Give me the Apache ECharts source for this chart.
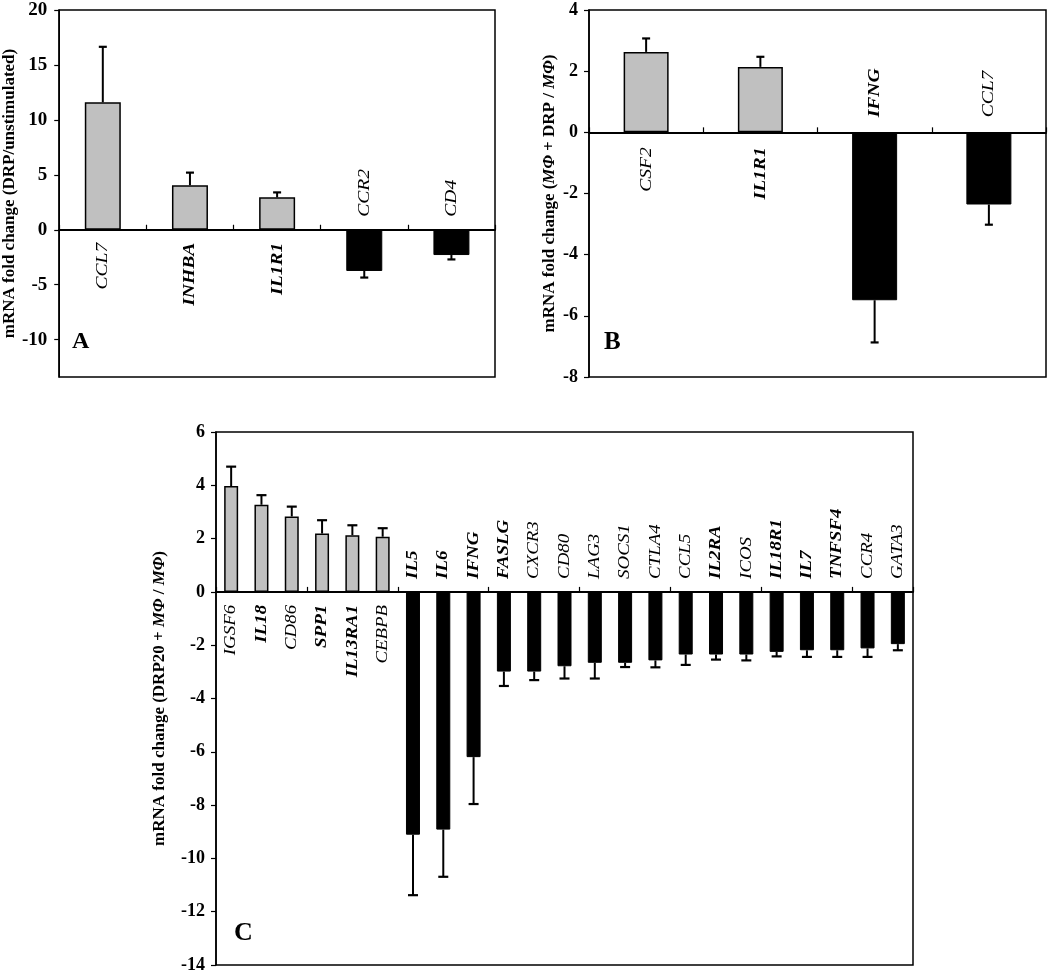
<!DOCTYPE html>
<html><head><meta charset="utf-8">
<script src="https://cdn.jsdelivr.net/npm/echarts@6/dist/echarts.min.js"></script>
<style>html,body{margin:0;padding:0;background:#fff}#c{width:1050px;height:974px}</style>
</head><body><div id="c"></div>
<script>
// ---- Data ----
const genesA = ['CCL7', 'INHBA', 'IL1R1', 'CCR2', 'CD4'];
const valuesA = [11.6, 4.05, 2.95, -3.75, -2.3];
const errorsA = [5.05, 1.15, 0.45, 0.6, 0.4];
const ticksA = [-10, -5, 0, 5, 10, 15, 20];

const genesB = ['CSF2', 'IL1R1', 'IFNG', 'CCL7'];
const valuesB = [2.63, 2.14, -5.49, -2.36];
const errorsB = [0.44, 0.33, 1.38, 0.66];

const genesC = ['IGSF6', 'IL18', 'CD86', 'SPP1', 'IL13RA1', 'CEBPB', 'IL5', 'IL6', 'IFNG', 'FASLG', 'CXCR3', 'CD80', 'LAG3', 'SOCS1', 'CTLA4', 'CCL5', 'IL2RA', 'ICOS', 'IL18R1', 'IL7', 'TNFSF4', 'CCR4', 'GATA3'];
const valuesC = [3.97, 3.27, 2.83, 2.19, 2.13, 2.07, -9.11, -8.92, -6.2, -2.99, -2.99, -2.79, -2.66, -2.66, -2.57, -2.35, -2.35, -2.35, -2.25, -2.19, -2.19, -2.12, -1.96];
const errorsC = [0.73, 0.36, 0.37, 0.5, 0.37, 0.32, 2.27, 1.77, 1.76, 0.54, 0.32, 0.46, 0.59, 0.16, 0.26, 0.39, 0.19, 0.22, 0.17, 0.25, 0.25, 0.32, 0.23];

// ---- Style ----
const FONT = '"Liberation Serif", "Times New Roman", serif';
const boldLabels = new Set(['INHBA', 'IL1R1', 'IFNG', 'IL18', 'SPP1', 'IL13RA1', 'IL5', 'IL6', 'FASLG', 'IL2RA', 'IL18R1', 'IL7', 'TNFSF4']);

function barData(values) {
  return values.map(v => ({
    value: v,
    itemStyle: v >= 0
      ? { color: '#c0c0c0', borderColor: '#000', borderWidth: 1.5 }
      : { color: '#000', borderColor: '#000', borderWidth: 1 }
  }));
}

function barSeries(idx, values, width) {
  return { type: 'bar', xAxisIndex: idx, yAxisIndex: idx, data: barData(values), barWidth: width, z: 2, silent: true };
}

function errSeries(idx, values, errs, capHalf) {
  return {
    type: 'custom', xAxisIndex: idx, yAxisIndex: idx, z: 3, silent: true,
    encode: { x: 0, y: [1, 2] },
    data: values.map((v, i) => [i, v, v + Math.sign(v) * errs[i]]),
    renderItem: (params, api) => {
      const p0 = api.coord([api.value(0), api.value(1)]);
      const p1 = api.coord([api.value(0), api.value(2)]);
      return {
        type: 'group', children: [
          { type: 'line', shape: { x1: p0[0], y1: p0[1], x2: p1[0], y2: p1[1] }, style: { stroke: '#000', lineWidth: 2 } },
          { type: 'line', shape: { x1: p1[0] - capHalf, y1: p1[1], x2: p1[0] + capHalf, y2: p1[1] }, style: { stroke: '#000', lineWidth: 2.2 } }
        ]
      };
    }
  };
}

function labelSeries(idx, genes, values, fontSize, scale, gap) {
  return {
    type: 'custom', xAxisIndex: idx, yAxisIndex: idx, z: 4, silent: true,
    encode: { x: 0, y: 1 },
    data: genes.map((g, i) => [i, values[i]]),
    renderItem: (params, api) => {
      const i = api.value(0);
      const v = api.value(1);
      const p = api.coord([i, 0]);
      const up = v < 0;
      const g = genes[i];
      return {
        type: 'text', x: p[0], y: p[1] + (up ? -gap : gap), rotation: Math.PI / 2, scaleX: scale,
        style: {
          text: g, x: 0, y: 0, fill: '#000',
          fontStyle: 'italic', fontWeight: boldLabels.has(g) ? 'bold' : 'normal',
          fontSize: fontSize, fontFamily: FONT,
          align: up ? 'left' : 'right', verticalAlign: 'middle'
        }
      };
    }
  };
}

function xAxis(idx, genes) {
  return {
    type: 'category', gridIndex: idx, data: genes, boundaryGap: true,
    axisLine: { onZero: true, lineStyle: { color: '#000', width: 2 } },
    axisTick: { show: true, inside: true, length: 5, lineStyle: { color: '#000', width: 1.2 } },
    axisLabel: { show: false }, splitLine: { show: false }
  };
}

function yAxis(idx, cfg) {
  const ax = {
    type: 'value', gridIndex: idx, min: cfg.min, max: cfg.max,
    axisLine: { show: true, onZero: false, lineStyle: { color: '#000', width: 1.5 } },
    axisTick: { show: true, inside: false, length: 5, lineStyle: { color: '#000', width: 1.2 } },
    axisLabel: { color: '#000', fontFamily: FONT, fontWeight: 'bold', fontSize: cfg.labelSize, margin: cfg.margin },
    splitLine: { show: false },
    name: cfg.name, nameLocation: 'middle', nameGap: cfg.nameGap, nameRotate: 90,
    nameTextStyle: {
      color: '#000', fontFamily: FONT, fontWeight: 'bold', fontSize: 17,
      rich: { i: { fontFamily: FONT, fontWeight: 'bold', fontStyle: 'italic', fontSize: 17, color: '#000' } }
    }
  };
  if (cfg.interval) ax.interval = cfg.interval;
  if (cfg.custom) {
    ax.axisLabel.customValues = cfg.custom;
    ax.axisTick.customValues = cfg.custom;
  }
  return ax;
}

const chart = echarts.init(document.getElementById('c'), null, { renderer: 'canvas' });
const titleStyle = (size) => ({ fontFamily: FONT, fontWeight: 'bold', fontSize: size, color: '#000' });

chart.setOption({
  animation: false,
  backgroundColor: '#fff',
  title: [
    { text: 'A', left: 72, top: 330, padding: 0, textStyle: titleStyle(24) },
    { text: 'B', left: 604, top: 330, padding: 0, textStyle: titleStyle(25) },
    { text: 'C', left: 234, top: 920, padding: 0, textStyle: titleStyle(26) }
  ],
  grid: [
    { left: 55, top: 10, width: 440, height: 367, show: true, borderColor: '#000', borderWidth: 1.5, backgroundColor: 'transparent' },
    { left: 589, top: 10, width: 457, height: 367, show: true, borderColor: '#000', borderWidth: 1.5, backgroundColor: 'transparent' },
    { left: 216, top: 432, width: 697, height: 539, show: true, borderColor: '#000', borderWidth: 1.5, backgroundColor: 'transparent' }
  ],
  xAxis: [xAxis(0, genesA), xAxis(1, genesB), xAxis(2, genesC)],
  yAxis: [
    yAxis(0, { min: -13.4, max: 20, custom: ticksA, labelSize: 19, margin: 12, nameGap: 35, name: 'mRNA fold change (DRP/unstimulated)' }),
    yAxis(1, { min: -8, max: 4, interval: 2, labelSize: 18, margin: 11, nameGap: 31, name: 'mRNA fold change ({i|MΦ} + DRP / {i|MΦ})' }),
    yAxis(2, { min: -14, max: 6, interval: 2, labelSize: 18, margin: 11, nameGap: 48, name: 'mRNA fold change (DRP20 + {i|MΦ} / {i|MΦ})' })
  ],
  series: [
    barSeries(0, valuesA, 36), errSeries(0, valuesA, errorsA, 4), labelSeries(0, genesA, valuesA, 17, 1.15, 13),
    barSeries(1, valuesB, 45), errSeries(1, valuesB, errorsB, 4), labelSeries(1, genesB, valuesB, 17, 1.15, 15),
    barSeries(2, valuesC, 14), errSeries(2, valuesC, errorsC, 5), labelSeries(2, genesC, valuesC, 16, 1.18, 13)
  ]
});
</script>
</body></html>
